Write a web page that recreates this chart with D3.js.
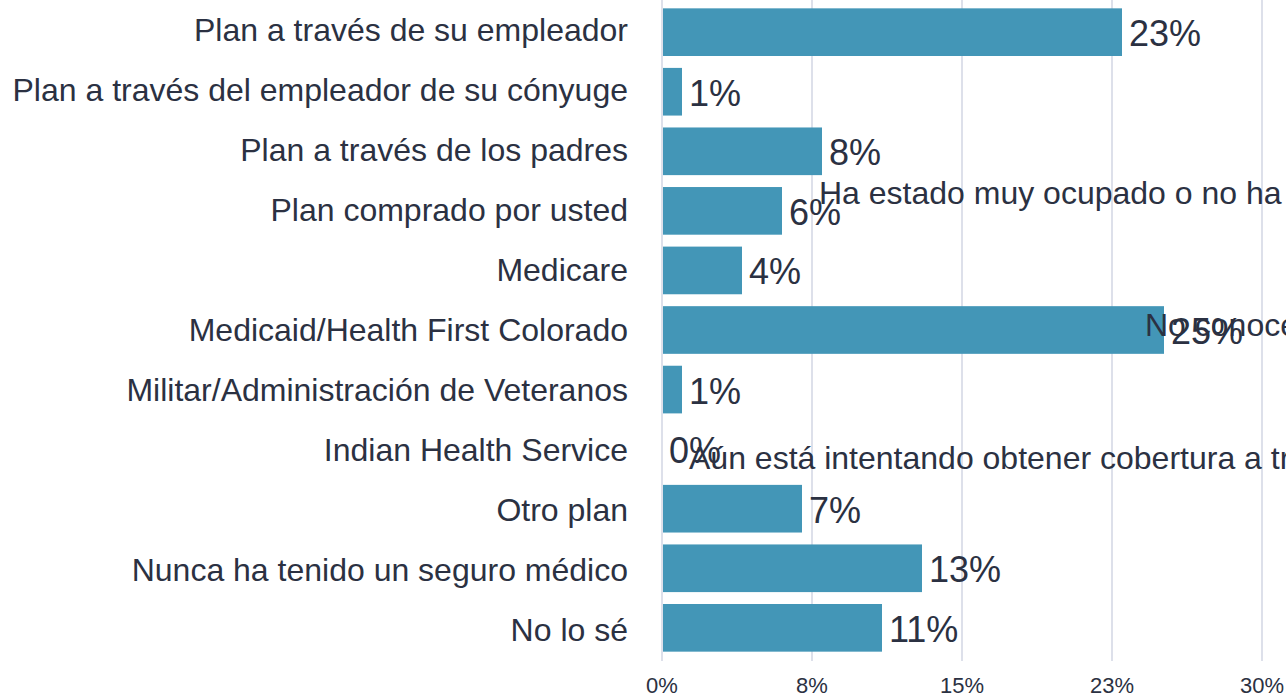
<!DOCTYPE html>
<html lang="es">
<head>
    <meta charset="UTF-8">
    <title>Tipo de seguro médico</title>
    <script src="https://d3js.org/d3.v7.min.js"></script>
    <style>
        body {
            margin: 0;
            background: white;
            overflow: hidden;
        }
        svg {
            display: block;
            font-family: "Helvetica Neue", Helvetica, Arial, "Liberation Sans", sans-serif;
        }
        .grid line {
            stroke: #dde0ea;
            stroke-width: 2;
        }
        text {
            fill: #2b3142;
        }
    </style>
</head>
<body>
    <script>
        // categories and values (percent)
        const categories = [
            'Plan a través de su empleador',
            'Plan a través del empleador de su cónyuge',
            'Plan a través de los padres',
            'Plan comprado por usted',
            'Medicare',
            'Medicaid/Health First Colorado',
            'Militar/Administración de Veteranos',
            'Indian Health Service',
            'Otro plan',
            'Nunca ha tenido un seguro médico',
            'No lo sé'
        ];
        const values = [23, 1, 8, 6, 4, 25.1, 1, 0, 7, 13, 11];

        const tickValues = [0, 7.5, 15, 22.5, 30];
        const tickLabels = ['0%', '8%', '15%', '23%', '30%'];

        // stray labels from the other series, drawn over the chart
        const reasonSlots = [1, 2, 3];
        const reasonLabels = [
            'Ha estado muy ocupado o no ha tenido tiempo',
            'No conoce las opciones',
            'Aún está intentando obtener cobertura a través'
        ];
        const reasonValues = [7.5, 23.8, 1];

        const width = 1286;
        const height = 695;
        const margin = {top: 0, left: 662, right: 24, bottom: 35};

        const svg = d3.select('body')
                      .append('svg')
                      .attr('width', width)
                      .attr('height', height);

        const x = d3.scaleLinear()
                    .domain([0, 30])
                    .range([margin.left, width - margin.right]);

        const y = d3.scaleBand()
                    .domain(categories)
                    .range([0, 660])
                    .paddingInner(0.2)
                    .paddingOuter(0.14);

        // axis labels sit on a plain band (no padding)
        const yLabel = d3.scaleBand()
                         .domain(categories)
                         .range([0, 660]);

        const yReason = d3.scaleBand()
                          .domain(d3.range(5))
                          .range([-6, 656]);

        // gridlines
        svg.append('g')
           .attr('class', 'grid')
           .selectAll('line')
           .data(tickValues)
           .join('line')
           .attr('x1', d => x(d))
           .attr('x2', d => x(d))
           .attr('y1', 0)
           .attr('y2', 661);

        // tick labels
        svg.append('g')
           .selectAll('text')
           .data(tickValues)
           .join('text')
           .attr('x', d => x(d))
           .attr('y', 693)
           .attr('text-anchor', 'middle')
           .style('font-size', '22px')
           .text((d, i) => tickLabels[i]);

        // bars
        svg.append('g')
           .selectAll('rect')
           .data(values)
           .join('rect')
           .attr('x', x(0) + 1)
           .attr('y', (d, i) => y(categories[i]))
           .attr('width', d => Math.max(0, x(d) - x(0) - 1))
           .attr('height', y.bandwidth())
           .attr('fill', '#4396b7');

        // category labels
        svg.append('g')
           .selectAll('text')
           .data(categories)
           .join('text')
           .attr('x', x(0) - 34)
           .attr('y', d => yLabel(d) + yLabel.bandwidth() / 2)
           .attr('dy', '0.35em')
           .attr('text-anchor', 'end')
           .style('font-size', '32px')
           .text(d => d);

        // value labels
        svg.append('g')
           .selectAll('text')
           .data(values)
           .join('text')
           .attr('x', d => x(d) + 7)
           .attr('y', (d, i) => y(categories[i]) + y.bandwidth() / 2)
           .attr('dy', '0.39em')
           .style('font-size', '36px')
           .text(d => Math.round(d) + '%');

        // overlapping labels
        svg.append('g')
           .selectAll('text')
           .data(reasonLabels)
           .join('text')
           .attr('x', (d, i) => x(reasonValues[i]) + 7)
           .attr('y', (d, i) => yReason(reasonSlots[i]) + yReason.bandwidth() / 2)
           .attr('dy', '0.35em')
           .style('font-size', '32px')
           .text(d => d);
    </script>
</body>
</html>
